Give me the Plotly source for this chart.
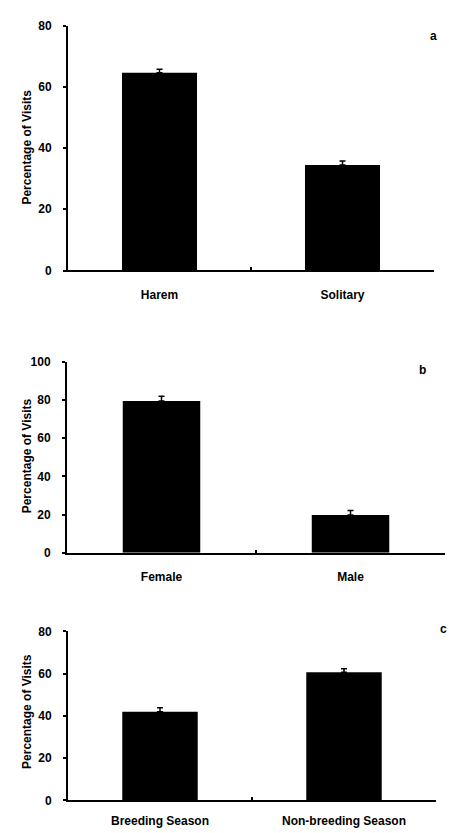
import plotly.graph_objects as go

# Panel a
cats_a = ["Harem", "Solitary"]
vals_a = [64.6, 34.5]
err_a = [1.2, 1.3]
# Panel b
cats_b = ["Female", "Male"]
vals_b = [79.5, 19.8]
err_b = [2.5, 2.3]
# Panel c
cats_c = ["Breeding Season", "Non-breeding Season"]
vals_c = [41.9, 60.6]
err_c = [1.9, 1.7]

W, H = 449, 833
FONT = "Liberation Sans, Arial, sans-serif"

panels = [
    dict(cats=cats_a, vals=vals_a, err=err_a, ymax=80, top=19, bot=268, left=68, right=434,
         label="a", lx=433, ly=30, tyc=143, xstand=12),
    dict(cats=cats_b, vals=vals_b, err=err_b, ymax=100, top=361, bot=555, left=67, right=445,
         label="b", lx=422, ly=369, tyc=457, xstand=12),
    dict(cats=cats_c, vals=vals_c, err=err_c, ymax=80, top=635, bot=807, left=68, right=436,
         label="c", lx=443, ly=633, tyc=717, xstand=8),
]

fig = go.Figure()
annotations = []
layout = dict(width=W, height=H, margin=dict(l=0, r=0, t=0, b=0),
              paper_bgcolor="white", plot_bgcolor="white", showlegend=False,
              font=dict(family=FONT, color="black"))

for i, p in enumerate(panels, start=1):
    xa = "x" if i == 1 else f"x{i}"
    ya = "y" if i == 1 else f"y{i}"
    fig.add_trace(go.Bar(
        x=p["cats"], y=p["vals"], xaxis=xa, yaxis=ya, width=0.41,
        marker=dict(color="black", line=dict(width=0)),
        error_y=dict(type="data", array=p["err"], arrayminus=[0] * len(p["err"]),
                     symmetric=False, color="black", thickness=1.5, width=3),
    ))
    xdom = [p["left"] / W, p["right"] / W]
    ydom = [1 - p["bot"] / H, 1 - p["top"] / H]
    xkey = "xaxis" if i == 1 else f"xaxis{i}"
    ykey = "yaxis" if i == 1 else f"yaxis{i}"
    layout[xkey] = dict(domain=xdom, anchor=ya, type="category", range=[-0.5, 1.5],
                        showline=True, linecolor="black", linewidth=2, showgrid=False,
                        ticks="inside", tickson="boundaries", ticklen=3, tickwidth=1.5,
                        tickcolor="black", tickfont=dict(size=12, family=FONT, weight="bold"),
                        ticklabelstandoff=p["xstand"], zeroline=False)
    layout[ykey] = dict(domain=ydom, anchor=xa, range=[0, p["ymax"]], dtick=20,
                        showline=True, linecolor="black", linewidth=2, showgrid=False,
                        ticks="outside", ticklen=3, tickwidth=1.5, tickcolor="black",
                        tickfont=dict(size=12, family=FONT, weight="bold"), ticklabelstandoff=9,
                        zeroline=False)
    annotations.append(dict(text=p["label"], xref="paper", yref="paper",
                            x=p["lx"] / W, y=1 - p["ly"] / H, showarrow=False,
                            xanchor="center", yanchor="middle",
                            font=dict(size=12, family=FONT, weight="bold")))
    annotations.append(dict(text="Percentage of Visits", xref="paper", yref="paper",
                            x=27 / W, y=1 - p["tyc"] / H, textangle=-90,
                            xanchor="center", yanchor="middle",
                            showarrow=False, font=dict(size=12, family=FONT, weight="bold")))

layout["annotations"] = annotations
fig.update_layout(**layout)
fig.write_html(
    "out.html",
    config={"displayModeBar": False},
    post_script=("document.body.style.margin='0';"
                 "document.body.style.overflow='hidden';"
                 "document.documentElement.style.overflow='hidden';"),
)
